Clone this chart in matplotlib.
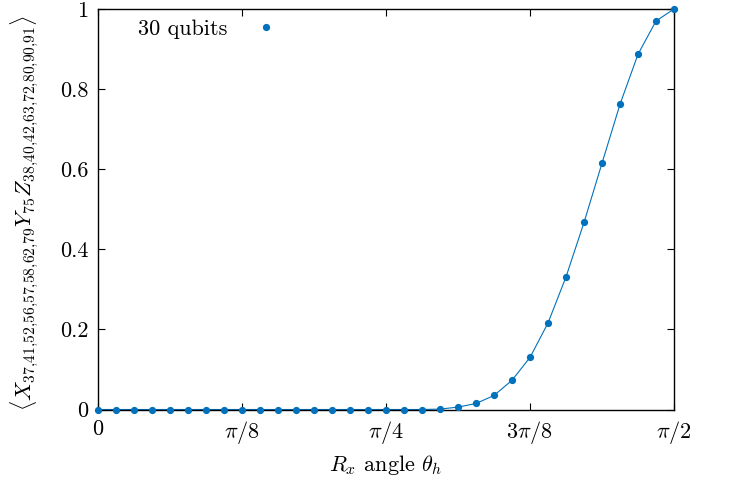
import numpy as np
import matplotlib
matplotlib.use("Agg")
import matplotlib.pyplot as plt

plt.rcParams['font.family'] = 'cmr10'
plt.rcParams['mathtext.fontset'] = 'cm'
plt.rcParams['axes.formatter.use_mathtext'] = True

# angle index k -> theta = k*pi/64
k_steps = np.arange(33)
expect = [0.0, 0.0, 0.0, 0.0, 0.0, 0.0, 0.0, 0.0, 0.0, 0.0,
          0.0, 0.0, 0.0, 0.0, 0.0, 0.0, 0.0, 0.0, 0.0, 0.001,
          0.006, 0.015, 0.035, 0.073, 0.13, 0.216, 0.331, 0.467,
          0.615, 0.762, 0.887, 0.97, 1.0]
xtick_labels = ['0', r'$\pi/8$', r'$\pi/4$', r'$3\pi/8$', r'$\pi/2$']
ytick_vals = [0, 0.2, 0.4, 0.6, 0.8, 1]
ytick_labels = ['0', '0.2', '0.4', '0.6', '0.8', '1']
x_sub = '37{,}41{,}52{,}56{,}57{,}58{,}62{,}79'
z_sub = '38{,}40{,}42{,}63{,}72{,}80{,}90{,}91'

theta = k_steps * np.pi / 64
blue = '#0072bd'

fig = plt.figure(figsize=(7.3, 4.86), dpi=100)
ax = fig.add_axes([0.1342, 0.1574, 0.7891, 0.8241])

ax.plot(theta, expect, '-', color=blue, lw=0.8, clip_on=False)
ax.plot(theta, expect, 'o', color=blue, ms=4.2, label='30 qubits', clip_on=False, zorder=5)

ax.set_xlim(0, np.pi / 2)
ax.set_ylim(0, 1)
ax.set_xticks(np.arange(5) * np.pi / 8)
ax.set_xticklabels(xtick_labels)
ax.set_yticks(ytick_vals)
ax.set_yticklabels(ytick_labels)
ax.tick_params(direction='in', top=True, right=True, length=5, width=0.8,
               labelsize=16, pad=7)
for s in ax.spines.values():
    s.set_linewidth(1.0)

ax.set_xlabel(r'$R_x$ angle $\theta_h$', fontsize=16, labelpad=5)
ax.set_ylabel(r'$\langle X_{%s}Y_{75}Z_{%s}\rangle$' % (x_sub, z_sub),
              fontsize=16)
ax.yaxis.set_label_coords(-0.099, 0.49)

ax.legend(loc='upper left', bbox_to_anchor=(0.035, 1.025), frameon=False,
          markerfirst=False, fontsize=16, handlelength=1.5, handletextpad=1.0)

fig.savefig('out.png', dpi=100)
